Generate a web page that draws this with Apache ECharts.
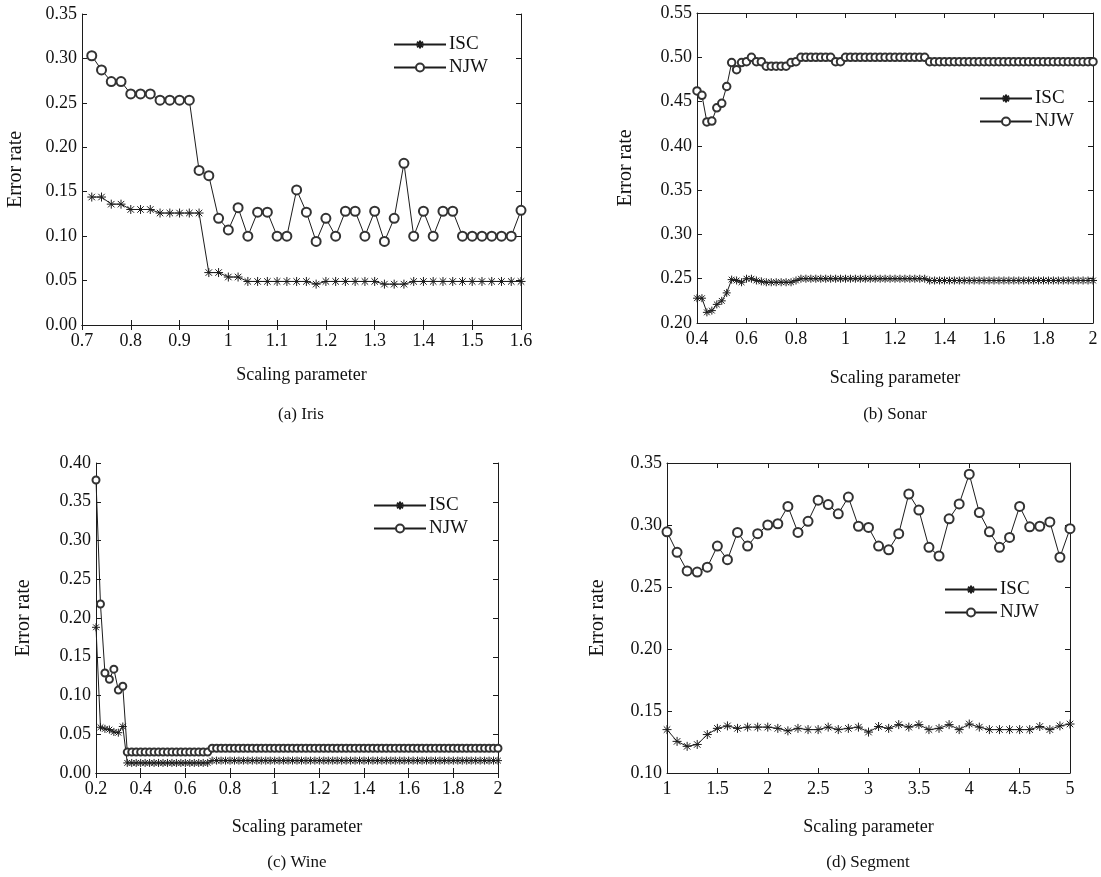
<!DOCTYPE html>
<html><head><meta charset="utf-8">
<script src="https://cdn.jsdelivr.net/npm/echarts@6/dist/echarts.min.js"></script>
<style>html,body{margin:0;padding:0;background:#fff}#c{width:1101px;height:877px}</style>
</head><body><div id="c"></div>
<script>
// ---------- (a) Iris ----------
const xA = [0.72,0.74,0.76,0.78,0.80,0.82,0.84,0.86,0.88,0.90,0.92,0.94,0.96,0.98,1.00,1.02,1.04,1.06,1.08,1.10,1.12,1.14,1.16,1.18,1.20,1.22,1.24,1.26,1.28,1.30,1.32,1.34,1.36,1.38,1.40,1.42,1.44,1.46,1.48,1.50,1.52,1.54,1.56,1.58,1.60];
const njwA = [0.303,0.287,0.274,0.274,0.260,0.260,0.260,0.253,0.253,0.253,0.253,
  0.174,0.168,0.120,0.107,0.132,0.100,0.127,0.127,0.100,0.100,0.152,
  0.127,0.094,0.120,0.100,0.128,0.128,0.100,0.128,0.094,0.120,0.182,0.100,0.128,0.100,0.128,0.128,0.100,0.100,0.100,0.100,0.100,0.100,0.129];
const iscA = [0.144,0.144,0.136,0.136,0.130,0.130,0.130,0.126,0.126,0.126,0.126,0.126,
  0.059,0.059,0.054,0.054,0.049,0.049,0.049,0.049,0.049,0.049,0.049,0.046,
  0.049,0.049,0.049,0.049,0.049,0.049,0.046,0.046,0.046,
  0.049,0.049,0.049,0.049,0.049,0.049,0.049,0.049,0.049,0.049,0.049,0.049];

// ---------- (b) Sonar ----------
const xB = [0.40,0.42,0.44,0.46,0.48,0.50,0.52,0.54,0.56,0.58,
  0.60,0.62,0.64,0.66,0.68,0.70,0.72,0.74,0.76,0.78,
  0.80,0.82,0.84,0.86,0.88,0.90,0.92,0.94,0.96,0.98,
  1.00,1.02,1.04,1.06,1.08,1.10,1.12,1.14,1.16,1.18,
  1.20,1.22,1.24,1.26,1.28,1.30,1.32,1.34,1.36,1.38,
  1.40,1.42,1.44,1.46,1.48,1.50,1.52,1.54,1.56,1.58,
  1.60,1.62,1.64,1.66,1.68,1.70,1.72,1.74,1.76,1.78,
  1.80,1.82,1.84,1.86,1.88,1.90,1.92,1.94,1.96,1.98,
  2.00];
const njwB = [0.462,0.457,0.427,0.428,0.443,0.448,0.467,0.494,0.486,0.494,
  0.495,0.500,0.495,0.495,0.490,0.490,0.490,0.490,0.490,0.494,
  0.495,0.500,0.500,0.500,0.500,0.500,0.500,0.500,0.495,0.495,
  0.500,0.500,0.500,0.500,0.500,0.500,0.500,0.500,0.500,0.500,
  0.500,0.500,0.500,0.500,0.500,0.500,0.500,0.495,0.495,0.495,
  0.495,0.495,0.495,0.495,0.495,0.495,0.495,0.495,0.495,0.495,
  0.495,0.495,0.495,0.495,0.495,0.495,0.495,0.495,0.495,0.495,
  0.495,0.495,0.495,0.495,0.495,0.495,0.495,0.495,0.495,0.495,
  0.495];
const iscB = [0.228,0.228,0.212,0.214,0.221,0.225,0.234,0.249,0.248,0.246,
  0.250,0.250,0.248,0.247,0.246,0.246,0.246,0.246,0.246,0.246,
  0.248,0.250,0.250,0.250,0.250,0.250,0.250,0.250,0.250,0.250,
  0.250,0.250,0.250,0.250,0.250,0.250,0.250,0.250,0.250,0.250,
  0.250,0.250,0.250,0.250,0.250,0.250,0.250,0.248,0.248,0.248,
  0.248,0.248,0.248,0.248,0.248,0.248,0.248,0.248,0.248,0.248,
  0.248,0.248,0.248,0.248,0.248,0.248,0.248,0.248,0.248,0.248,
  0.248,0.248,0.248,0.248,0.248,0.248,0.248,0.248,0.248,0.248,
  0.248];

// ---------- (c) Wine ----------
const xC = [0.20,0.22,0.24,0.26,0.28,0.30,0.32,0.34,0.36,0.38,
  0.40,0.42,0.44,0.46,0.48,0.50,0.52,0.54,0.56,0.58,
  0.60,0.62,0.64,0.66,0.68,0.70,0.72,0.74,0.76,0.78,
  0.80,0.82,0.84,0.86,0.88,0.90,0.92,0.94,0.96,0.98,
  1.00,1.02,1.04,1.06,1.08,1.10,1.12,1.14,1.16,1.18,
  1.20,1.22,1.24,1.26,1.28,1.30,1.32,1.34,1.36,1.38,
  1.40,1.42,1.44,1.46,1.48,1.50,1.52,1.54,1.56,1.58,
  1.60,1.62,1.64,1.66,1.68,1.70,1.72,1.74,1.76,1.78,
  1.80,1.82,1.84,1.86,1.88,1.90,1.92,1.94,1.96,1.98,
  2.00];
const njwC = [0.378,0.218,0.129,0.121,0.134,0.107,0.112,0.027,0.027,0.027,
  0.027,0.027,0.027,0.027,0.027,0.027,0.027,0.027,0.027,0.027,
  0.027,0.027,0.027,0.027,0.027,0.027,0.032,0.032,0.032,0.032,
  0.032,0.032,0.032,0.032,0.032,0.032,0.032,0.032,0.032,0.032,
  0.032,0.032,0.032,0.032,0.032,0.032,0.032,0.032,0.032,0.032,
  0.032,0.032,0.032,0.032,0.032,0.032,0.032,0.032,0.032,0.032,
  0.032,0.032,0.032,0.032,0.032,0.032,0.032,0.032,0.032,0.032,
  0.032,0.032,0.032,0.032,0.032,0.032,0.032,0.032,0.032,0.032,
  0.032,0.032,0.032,0.032,0.032,0.032,0.032,0.032,0.032,0.032,
  0.032];
const iscC = [0.188,0.059,0.057,0.056,0.053,0.052,0.060,0.013,0.013,0.013,
  0.013,0.013,0.013,0.013,0.013,0.013,0.013,0.013,0.013,0.013,
  0.013,0.013,0.013,0.013,0.013,0.013,0.016,0.016,0.016,0.016,
  0.016,0.016,0.016,0.016,0.016,0.016,0.016,0.016,0.016,0.016,
  0.016,0.016,0.016,0.016,0.016,0.016,0.016,0.016,0.016,0.016,
  0.016,0.016,0.016,0.016,0.016,0.016,0.016,0.016,0.016,0.016,
  0.016,0.016,0.016,0.016,0.016,0.016,0.016,0.016,0.016,0.016,
  0.016,0.016,0.016,0.016,0.016,0.016,0.016,0.016,0.016,0.016,
  0.016,0.016,0.016,0.016,0.016,0.016,0.016,0.016,0.016,0.016,
  0.016];

// ---------- (d) Segment ----------
const xD = [1.0,1.1,1.2,1.3,1.4,1.5,1.6,1.7,1.8,1.9,
  2.0,2.1,2.2,2.3,2.4,2.5,2.6,2.7,2.8,2.9,
  3.0,3.1,3.2,3.3,3.4,3.5,3.6,3.7,3.8,3.9,
  4.0,4.1,4.2,4.3,4.4,4.5,4.6,4.7,4.8,4.9,
  5.0];
const njwD = [0.2945,0.278,0.263,0.262,0.266,0.283,0.272,0.294,0.283,0.293,
  0.300,0.301,0.315,0.294,0.303,0.320,0.3165,0.309,0.3225,0.299,
  0.298,0.283,0.280,0.293,0.325,0.312,0.282,0.275,0.305,0.317,
  0.341,0.310,0.2945,0.282,0.290,0.315,0.2985,0.299,0.3025,0.274,
  0.297];
const iscD = [0.135,0.1255,0.1215,0.123,0.131,0.136,0.138,0.136,0.137,0.137,
  0.137,0.136,0.134,0.136,0.135,0.135,0.137,0.135,0.136,0.137,
  0.133,0.1375,0.136,0.139,0.137,0.139,0.135,0.136,0.139,0.135,
  0.1395,0.137,0.135,0.135,0.135,0.135,0.135,0.1375,0.135,0.138,
  0.1395];

const seriesNames = ['ISC', 'NJW'];
const captions = ['(a) Iris', '(b) Sonar', '(c) Wine', '(d) Segment'];
const yAxisName = 'Error rate';
const xAxisName = 'Scaling parameter';

// ---------- layout / style ----------
const FONT = 'Liberation Serif';
const INK = '#1c1c1c';
const MARK = '#333';
const TXT = '#111';
const STAR = 'path://M0,-5L0,5M-5,0L5,0M-3.6,-3.6L3.6,3.6M-3.6,3.6L3.6,-3.6';

const panels = [
  {x:xA, isc:iscA, njw:njwA, grid:{left:82, top:14, width:439, height:311}, xr:[0.7,1.6,0.1], yr:[0,0.35,0.05], yGap:56, xGap:41, leg:{left:388, top:30}, cap:[301,415], cs:9, ss:9},
  {x:xB, isc:iscB, njw:njwB, grid:{left:697, top:13, width:396, height:310}, xr:[0.4,2,0.2], yr:[0.2,0.55,0.05], yGap:61, xGap:46, leg:{left:974, top:84}, cap:[895,415], cs:7.5, ss:8},
  {x:xC, isc:iscC, njw:njwC, grid:{left:96, top:463, width:402, height:310}, xr:[0.2,2,0.2], yr:[0,0.40,0.05], yGap:62, xGap:45, leg:{left:368, top:491}, cap:[297,863], cs:7, ss:8},
  {x:xD, isc:iscD, njw:njwD, grid:{left:667, top:463, width:403, height:310}, xr:[1,5,0.5], yr:[0.10,0.35,0.05], yGap:59, xGap:45, leg:{left:939, top:575}, cap:[868,863], cs:9, ss:9}
];

const fmtX = v => String(parseFloat(Number(v).toFixed(2)));
const fmtY = v => Number(v).toFixed(2);

const option = {animation:false, backgroundColor:'#fff', grid:[], xAxis:[], yAxis:[], series:[], legend:[], graphic:[]};
const lineAx = {show:true, lineStyle:{color:INK, width:1}};
panels.forEach((p, i) => {
  option.grid.push(Object.assign({containLabel:false, show:false}, p.grid));
  option.xAxis.push({type:'value', gridIndex:i, position:'bottom', min:p.xr[0], max:p.xr[1], interval:p.xr[2],
    axisLine:lineAx, axisTick:{show:true, inside:true, length:5, lineStyle:{color:INK}}, splitLine:{show:false},
    axisLabel:{formatter:fmtX, fontFamily:FONT, fontSize:18, color:TXT, margin:7},
    name:xAxisName, nameLocation:'middle', nameGap:p.xGap, nameTextStyle:{fontFamily:FONT, fontSize:18, color:TXT}});
  option.xAxis.push({type:'value', gridIndex:i, position:'top', min:p.xr[0], max:p.xr[1], interval:p.xr[2],
    axisLine:lineAx, axisTick:{show:true, inside:true, length:5, lineStyle:{color:INK}}, splitLine:{show:false}, axisLabel:{show:false}});
  option.yAxis.push({type:'value', gridIndex:i, position:'left', min:p.yr[0], max:p.yr[1], interval:p.yr[2],
    axisLine:lineAx, axisTick:{show:true, inside:true, length:5, lineStyle:{color:INK}}, splitLine:{show:false},
    axisLabel:{formatter:fmtY, fontFamily:FONT, fontSize:18, color:TXT, margin:5},
    name:yAxisName, nameLocation:'middle', nameGap:p.yGap, nameRotate:90, nameTextStyle:{fontFamily:FONT, fontSize:20, color:TXT}});
  option.yAxis.push({type:'value', gridIndex:i, position:'right', min:p.yr[0], max:p.yr[1], interval:p.yr[2],
    axisLine:lineAx, axisTick:{show:true, inside:true, length:5, lineStyle:{color:INK}}, splitLine:{show:false}, axisLabel:{show:false}});
  option.series.push({name:seriesNames[0], type:'line', xAxisIndex:2*i, yAxisIndex:2*i,
    data:p.x.map((xv, k) => [xv, p.isc[k]]), symbol:STAR, symbolSize:p.ss, showAllSymbol:true,
    lineStyle:{color:INK, width:1}, itemStyle:{color:INK, borderColor:INK, borderWidth:1}, emphasis:{disabled:true}});
  option.series.push({name:seriesNames[1], type:'line', xAxisIndex:2*i, yAxisIndex:2*i,
    data:p.x.map((xv, k) => [xv, p.njw[k]]), symbol:'emptyCircle', symbolSize:p.cs, showAllSymbol:true,
    lineStyle:{color:INK, width:1}, itemStyle:{color:MARK, borderColor:MARK, borderWidth:0.7}, emphasis:{disabled:true}});
  option.legend.push({left:p.leg.left, top:p.leg.top, orient:'vertical', itemWidth:52, itemHeight:10, itemGap:4,
    selectedMode:false, data:seriesNames, textStyle:{fontFamily:FONT, fontSize:19, color:TXT, padding:[0,0,0,-2]}});
  option.graphic.push({type:'text', x:p.cap[0], y:p.cap[1], style:{text:captions[i], textAlign:'center', textVerticalAlign:'middle',
    font:'17px "Liberation Serif"', fill:TXT}});
});

const chart = echarts.init(document.getElementById('c'), null, {renderer:'canvas'});
chart.setOption(option);
</script></body></html>
